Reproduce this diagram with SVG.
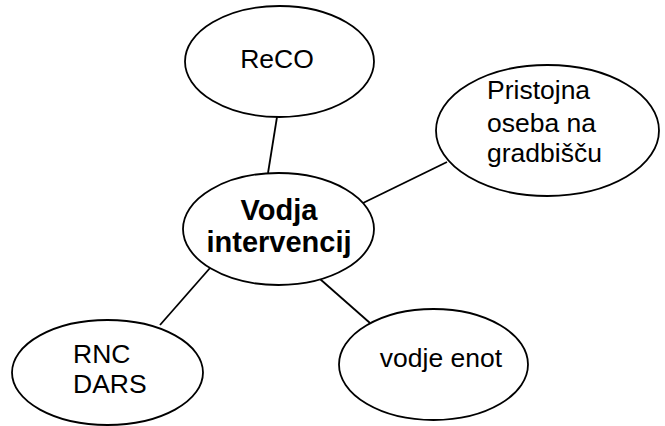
<svg xmlns="http://www.w3.org/2000/svg" width="665" height="426" viewBox="0 0 665 426">
<style>
.n{fill:#fff;stroke:#000;stroke-width:1.8}
.c line{stroke:#000;stroke-width:1.8}
text{font-family:"Liberation Sans",Arial,sans-serif;font-size:26.5px;fill:#000}
.b{font-weight:bold;font-size:29px}
</style>
<rect width="665" height="426" fill="#fff"/>
<g class="c" id="connectors">
<line x1="277" y1="117" x2="268" y2="173"/>
<line x1="447" y1="162" x2="363" y2="203"/>
<line x1="210" y1="268" x2="160" y2="325"/>
<line x1="320" y1="279" x2="370" y2="323"/>
</g>
<g id="reco">
<ellipse class="n" cx="279.5" cy="61.5" rx="94.5" ry="55.5"/>
<text x="277" y="68" text-anchor="middle">ReCO</text>
</g>
<g id="pristojna">
<ellipse class="n" cx="547.5" cy="130.5" rx="111.5" ry="65.5"/>
<text x="487" y="99">Pristojna</text>
<text x="487" y="132">oseba na</text>
<text x="487" y="162">gradbišču</text>
</g>
<g id="vodja">
<ellipse class="n" cx="278.5" cy="229" rx="95.5" ry="56"/>
<text class="b" x="279" y="220" text-anchor="middle">Vodja</text>
<text class="b" x="279" y="252" text-anchor="middle">intervencij</text>
</g>
<g id="rnc">
<ellipse class="n" cx="107.5" cy="372.5" rx="95.5" ry="52.5"/>
<text x="73" y="363">RNC</text>
<text x="73" y="393">DARS</text>
</g>
<g id="vodje">
<ellipse class="n" cx="433.5" cy="364.5" rx="94.5" ry="55.5"/>
<text x="441" y="367" text-anchor="middle">vodje enot</text>
</g>
</svg>
